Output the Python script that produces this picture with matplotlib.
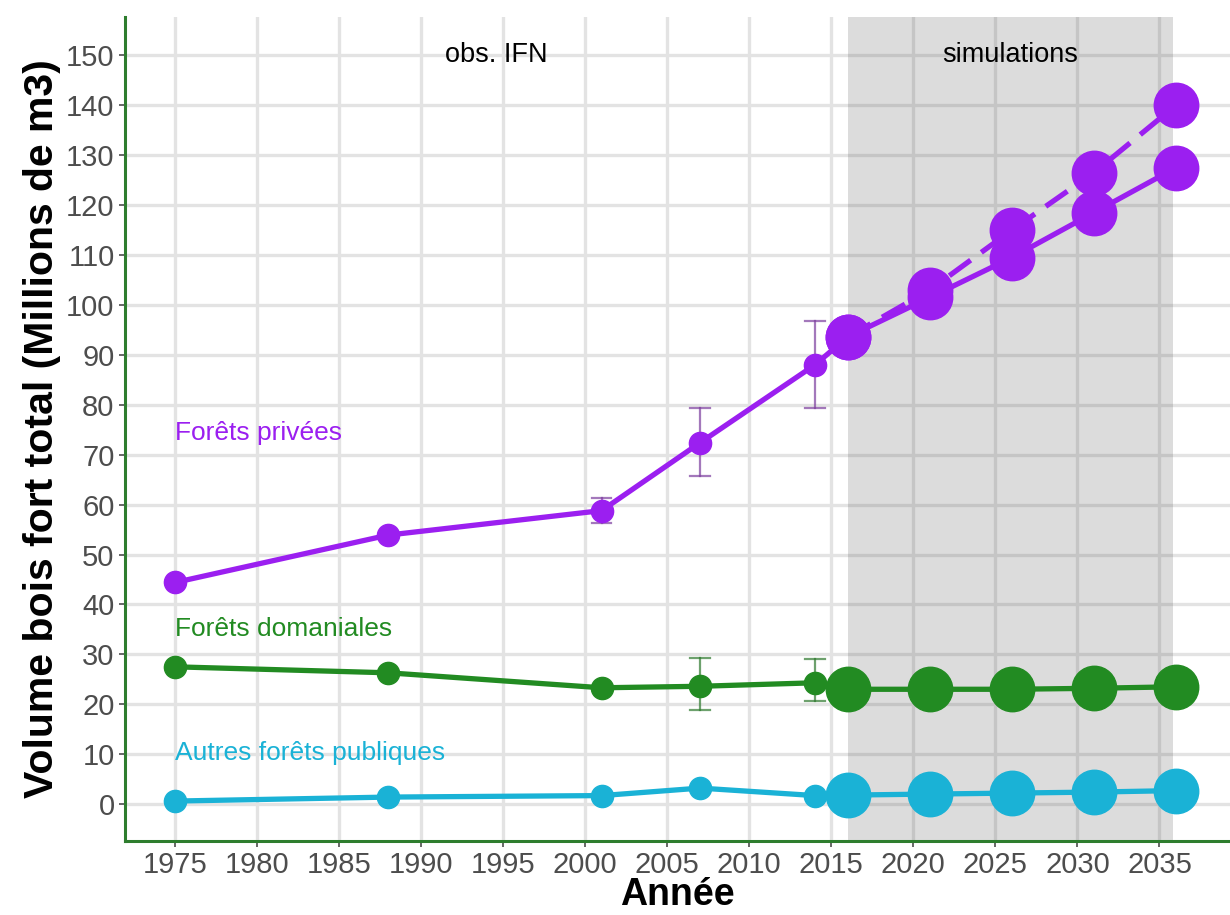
import numpy as np
import matplotlib
matplotlib.use('Agg')
import matplotlib.pyplot as plt

plt.rcParams['font.family'] = ['Liberation Sans', 'DejaVu Sans']

# observed (IFN) years and values
obs_years = [1975, 1988, 2001, 2007, 2014]
prive_obs = [44.4, 53.9, 58.8, 72.4, 88.0]
prive_err_lo = [44.4, 53.0, 56.3, 65.8, 79.4]
prive_err_hi = [44.4, 54.8, 61.4, 79.3, 96.8]
doma_obs = [27.5, 26.3, 23.3, 23.6, 24.3]
doma_err_lo = [27.5, 26.3, 23.3, 18.8, 20.6]
doma_err_hi = [27.5, 26.3, 23.3, 29.2, 29.0]
autres_obs = [0.6, 1.4, 1.7, 3.2, 1.7]

# simulations
sim_years = [2016, 2021, 2026, 2031, 2036]
prive_sim = [93.6, 101.5, 109.5, 118.5, 127.5]
prive_sim_haut = [93.6, 103.0, 115.0, 126.5, 140.0]
doma_sim = [23.0, 23.0, 23.0, 23.2, 23.5]
autres_sim = [1.8, 2.0, 2.2, 2.4, 2.7]

c_prive = '#9B1FF0'
c_doma = '#228B22'
c_autres = '#1AB2D6'

fig = plt.figure(figsize=(12.3, 9.15), dpi=100)
ax = fig.add_axes([125/1230, 1-841/915, (1230-125)/1230, (841-17)/915])

ax.set_xlim(1971.95, 2039.3)
ax.set_ylim(-7.4, 157.7)
ax.set_xticks(np.arange(1975, 2036, 5))
ax.set_yticks(np.arange(0, 151, 10))
ax.grid(True, color='#e3e3e3', linewidth=2.4, zorder=0)
ax.set_axisbelow(True)

# shaded simulation period
ax.axvspan(2016, 2035.85, color='#505050', alpha=0.2, linewidth=0, zorder=1)

# error bars
def errbars(x, lo, hi, col):
    for xi, l, h in zip(x, lo, hi):
        if h - l > 2:
            ax.plot([xi, xi], [l, h], color=col, lw=1.6, alpha=0.7, zorder=3)
            ax.plot([xi-0.6, xi+0.6], [l, l], color=col, lw=1.6, alpha=0.7, zorder=3)
            ax.plot([xi-0.6, xi+0.6], [h, h], color=col, lw=1.6, alpha=0.7, zorder=3)

errbars(obs_years, prive_err_lo, prive_err_hi, '#7d3f9e')
errbars(obs_years, doma_err_lo, doma_err_hi, '#2f7a2f')

lw = 3.8
# observed lines
ax.plot(obs_years + [sim_years[0]], prive_obs + [prive_sim[0]], color=c_prive, lw=lw, zorder=4)
ax.plot(obs_years + [sim_years[0]], doma_obs + [doma_sim[0]], color=c_doma, lw=lw, zorder=4)
ax.plot(obs_years + [sim_years[0]], autres_obs + [autres_sim[0]], color=c_autres, lw=lw, zorder=4)
ax.plot(obs_years, prive_obs, 'o', color=c_prive, ms=16, zorder=5)
ax.plot(obs_years, doma_obs, 'o', color=c_doma, ms=16, zorder=5)
ax.plot(obs_years, autres_obs, 'o', color=c_autres, ms=16, zorder=5)

# simulated lines
ax.plot(sim_years, prive_sim_haut, color=c_prive, lw=lw, ls=(0, (5, 2.5)), zorder=4)
ax.plot(sim_years, prive_sim_haut, 'o', color=c_prive, ms=32, zorder=5)
for y, c in [(prive_sim, c_prive), (doma_sim, c_doma), (autres_sim, c_autres)]:
    ax.plot(sim_years, y, color=c, lw=lw, zorder=4)
    ax.plot(sim_years, y, 'o', color=c, ms=32, zorder=5)

# labels
ax.text(1975, 74.3, 'Forêts privées', color=c_prive, fontsize=19, va='center', ha='left', zorder=6)
ax.text(1975, 35.0, 'Forêts domaniales', color=c_doma, fontsize=19, va='center', ha='left', zorder=6)
ax.text(1975, 10.2, 'Autres forêts publiques', color=c_autres, fontsize=19, va='center', ha='left', zorder=6)
ax.text(1994.6, 150, 'obs. IFN', color='black', fontsize=19.5, va='center', ha='center', zorder=6)
ax.text(2025.9, 150, 'simulations', color='black', fontsize=19.5, va='center', ha='center', zorder=6)

ax.set_xlabel('Année', fontsize=27, fontweight='bold', labelpad=-2)
ax.set_ylabel('Volume bois fort total (Millions de m3)', fontsize=29.5, fontweight='bold', labelpad=4)
ax.tick_params(labelsize=21, labelcolor='#4d4d4d', color='#4d4d4d', length=4, width=1.2)

for s in ['top', 'right']:
    ax.spines[s].set_visible(False)
for s in ['left', 'bottom']:
    ax.spines[s].set_color('#2e7d2e')
    ax.spines[s].set_linewidth(2.2)

fig.savefig('out.png', dpi=100)
